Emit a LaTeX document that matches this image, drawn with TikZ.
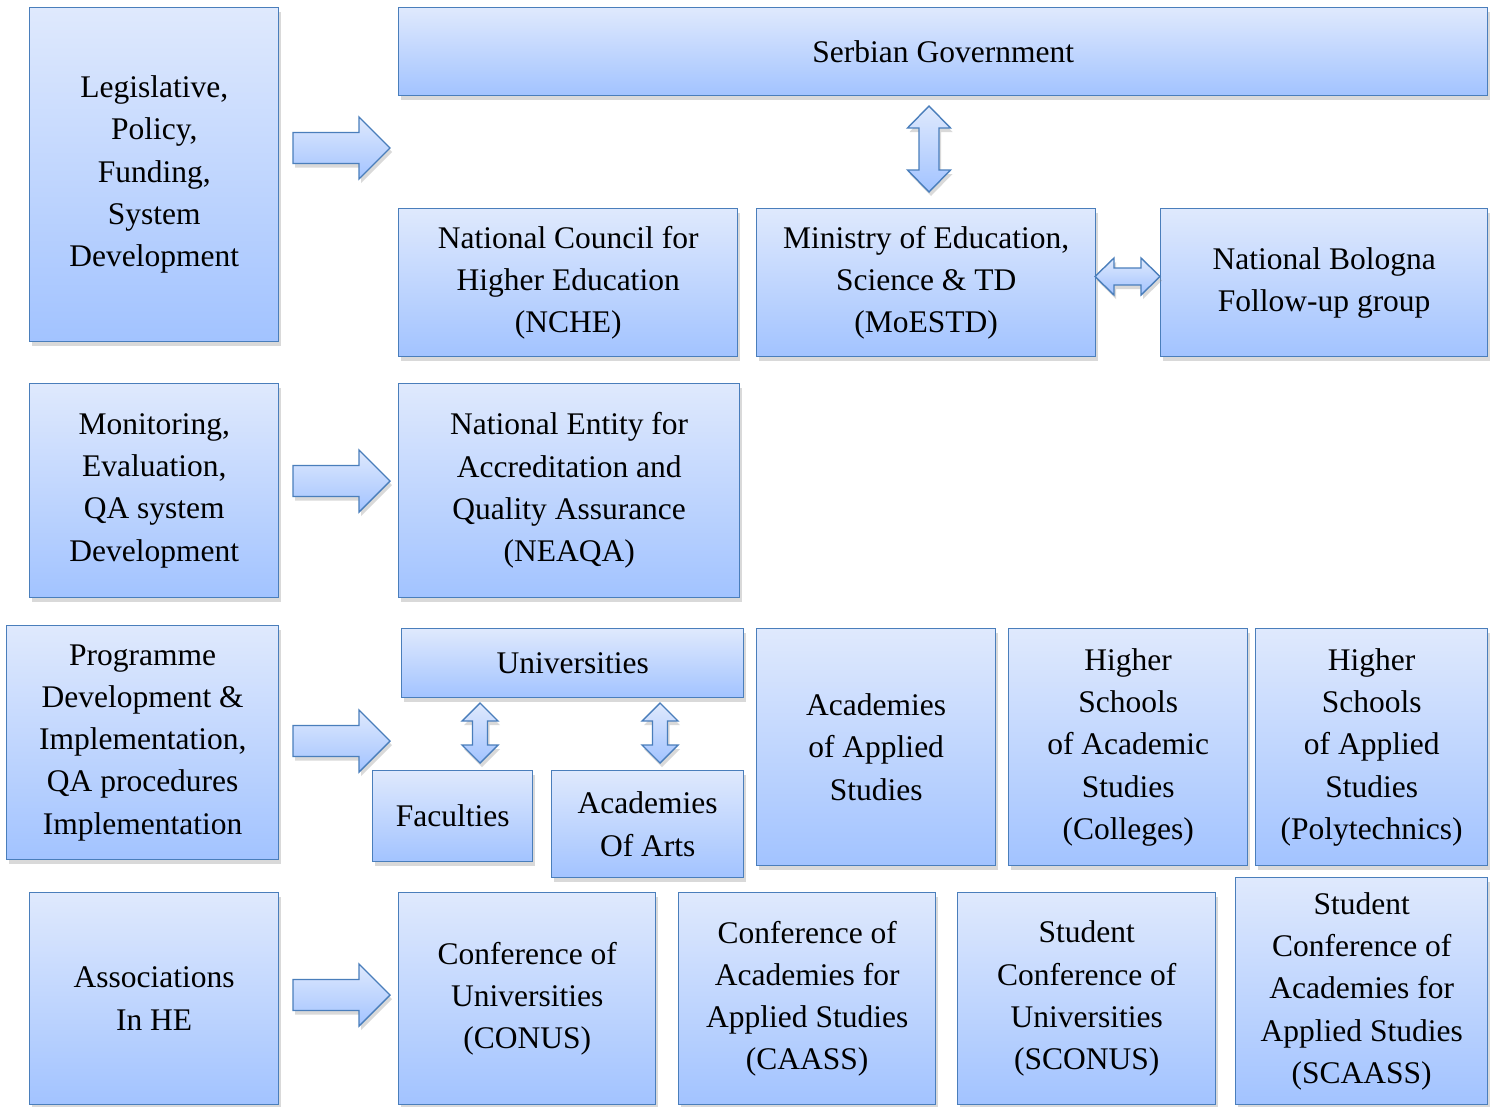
\documentclass[tikz,border=0pt]{standalone}
\usepackage{fontspec}
\setmainfont{Liberation Serif}
\usetikzlibrary{shadows}
\definecolor{bordc}{RGB}{74,126,187}
\definecolor{topc}{RGB}{223,233,253}
\definecolor{botc}{RGB}{162,195,255}
\tikzset{
  box/.style={draw=bordc, line width=1.4pt, top color=topc, bottom color=botc,
    anchor=north west, inner sep=0pt, align=center, text=black,
    font=\fontsize{31.5}{42.3}\selectfont,
    drop shadow={opacity=0.3, shadow xshift=2pt, shadow yshift=-4pt}},
  barrow/.style={draw=bordc, line width=1.4pt, top color=topc, bottom color=botc,
    line join=miter,
    drop shadow={opacity=0.3, shadow xshift=2pt, shadow yshift=-4pt}}
}
\newcommand{\mkbox}[6]{% name, x1, y1, x2, y2, text
  \node[box, minimum width=#4pt-#2pt, minimum height=#5pt-#3pt] (#1) at (#2,#3) {#6};}
\begin{document}
\begin{tikzpicture}[x=1pt,y=-1pt]
\useasboundingbox (0,0) rectangle (1494,1106);
% left column
\mkbox{lA}{29}{7}{278}{341}{Legislative,\\Policy,\\Funding,\\System\\Development}
\mkbox{lB}{29}{383}{278}{597}{Monitoring,\\Evaluation,\\QA system\\Development}
\mkbox{lC}{6}{625}{278}{859}{Programme\\Development \&\\Implementation,\\QA procedures\\Implementation}
\mkbox{lD}{29}{892}{278}{1104}{Associations\\In HE}
% row 1
\mkbox{gov}{398}{7}{1487}{95}{Serbian Government}
\mkbox{nche}{398}{208}{737}{356}{National Council for\\Higher Education\\(NCHE)}
\mkbox{moe}{756}{208}{1095}{356}{Ministry of Education,\\Science \& TD\\(MoESTD)}
\mkbox{bol}{1160}{208}{1487}{356}{National Bologna\\Follow-up group}
% row 2
\mkbox{neaqa}{398}{383}{739}{597}{National Entity for\\Accreditation and\\Quality Assurance\\(NEAQA)}
% row 3
\mkbox{uni}{401}{628}{743}{697}{Universities}
\mkbox{fac}{372}{770}{532}{861}{Faculties}
\mkbox{arts}{551}{770}{743}{877}{Academies\\Of Arts}
\mkbox{aas}{756}{628}{995}{865}{Academies\\of Applied\\Studies}
\mkbox{hsa}{1008}{628}{1247}{865}{Higher\\Schools\\of Academic\\Studies\\(Colleges)}
\mkbox{hsp}{1255}{628}{1487}{865}{Higher\\Schools\\of Applied\\Studies\\(Polytechnics)}
% row 4
\mkbox{conus}{398}{892}{655}{1104}{Conference of\\Universities\\(CONUS)}
\mkbox{caass}{678}{892}{935}{1104}{Conference of\\Academies for\\Applied Studies\\(CAASS)}
\mkbox{sconus}{957}{892}{1215}{1104}{Student\\Conference of\\Universities\\(SCONUS)}
\mkbox{scaass}{1235}{877}{1487}{1104}{Student\\Conference of\\Academies for\\Applied Studies\\(SCAASS)}
% right block arrows
\foreach \c in {148,481,741,995}{
  \begin{scope}[shift={(293,\c)}]
    \draw[barrow] (0,-15.5) -- (66,-15.5) -- (66,-31) -- (97,0) -- (66,31) -- (66,15.5) -- (0,15.5) -- cycle;
  \end{scope}
}
% vertical double arrow gov - moe
\begin{scope}[shift={(929,149)}]
  \draw[barrow] (0,-43) -- (21.5,-21) -- (10,-21) -- (10,21) -- (21.5,21) -- (0,43) -- (-21.5,21) -- (-10,21) -- (-10,-21) -- (-21.5,-21) -- cycle;
\end{scope}
% horizontal double arrow moe - bologna
\begin{scope}[shift={(1127.5,276.5)}]
  \draw[barrow] (-32.5,0) -- (-13.5,-18.5) -- (-13.5,-8.5) -- (13.5,-8.5) -- (13.5,-18.5) -- (32.5,0) -- (13.5,18.5) -- (13.5,8.5) -- (-13.5,8.5) -- (-13.5,18.5) -- cycle;
\end{scope}
% universities double arrows
\foreach \xc in {480,660}{
  \begin{scope}[shift={(\xc,733)}]
    \draw[barrow] (0,-30) -- (18,-12) -- (7.5,-12) -- (7.5,12) -- (18,12) -- (0,30) -- (-18,12) -- (-7.5,12) -- (-7.5,-12) -- (-18,-12) -- cycle;
  \end{scope}
}
\end{tikzpicture}
\end{document}
